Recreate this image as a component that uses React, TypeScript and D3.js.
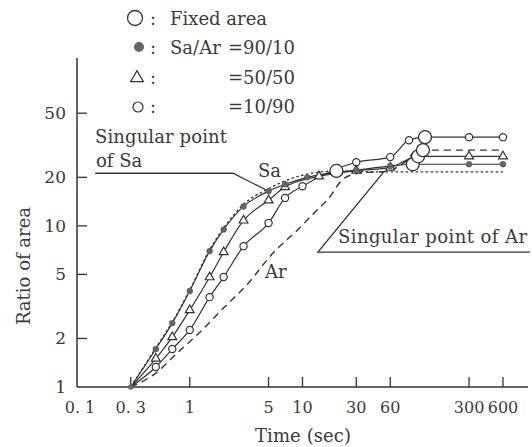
import React from 'react';
import * as d3 from 'd3';

const W = 532;
const H = 447;

// axis ticks
const xTickValues = [0.3, 1, 5, 10, 30, 60, 300, 600];
const xLabelValues = [0.1, 0.3, 1, 5, 10, 30, 60, 300, 600];
const xLabelTexts = ['0. 1', '0. 3', '1', '5', '10', '30', '60', '300', '600'];
const yTickValues = [2, 5, 10, 20, 50];
const yLabelValues = [1, 2, 5, 10, 20, 50];
const yLabelTexts = ['1', '2', '5', '10', '20', '50'];

// Sa/Ar = 90/10 (filled circles)
const filledT = [0.3, 0.5, 0.7, 1, 1.5, 2, 3, 5, 7, 11, 30, 60, 95, 300, 600];
const filledV = [1, 1.72, 2.49, 3.94, 6.97, 9.5, 13.2, 16.4, 18.1, 20.0, 22.2, 23.5, 24.1, 24.1, 24.1];
// Sa/Ar = 50/50 (triangles)
const triT = [0.3, 0.5, 0.7, 1, 1.5, 2, 3, 5, 7, 14, 30, 60, 106, 300, 600];
const triV = [1, 1.5, 2.04, 3.0, 4.8, 6.87, 10.8, 14.4, 17.4, 20.3, 22.0, 23.0, 27, 27, 27];
// Sa/Ar = 10/90 (open circles)
const openT = [0.3, 0.5, 0.7, 1, 1.5, 2, 3, 5, 7, 10, 30, 60, 88, 122, 300, 600];
const openV = [1, 1.33, 1.72, 2.26, 3.61, 4.81, 7.48, 10.4, 14.9, 17.6, 24.8, 26.7, 34, 35.5, 35.5, 35.5];
// pure Sa (dotted)
const saT = [0.3, 0.5, 0.7, 1, 1.5, 2, 3, 5, 7, 10, 20, 30, 60, 600];
const saV = [1, 1.75, 2.53, 4.0, 7.1, 9.7, 13.6, 17.0, 19.0, 20.6, 21.9, 21.7, 21.6, 21.6];
// pure Ar (dashed)
const arT = [0.3, 0.5, 0.77, 1.23, 2, 3.2, 5.5, 9, 13.4, 16.5, 24, 35, 53, 78, 104, 117, 300, 600];
const arV = [1, 1.22, 1.62, 2.19, 3.1, 4.3, 6.8, 9.4, 12.5, 14.4, 20, 21.4, 21.7, 24.4, 29.3, 29.5, 29.5, 29.5];
// fixed-area points (large open circles)
const fixedT = [20, 95, 106, 117, 122];
const fixedV = [21.9, 24.1, 27, 29.5, 35.5];

// annotation anchors (data units)
const saLeaderT = [0.145, 2.42, 5];
const saLeaderV = [21.2, 21.2, 16.4];
const arLeaderT = [1040, 13.7, 53];
const arLeaderV = [6.87, 6.87, 21.8];

const x = d3.scaleLog().domain([0.1, 1000]).range([77, 528]);
const y = d3.scaleLog().domain([1, 110]).range([387, 58]);

const zip = (t: number[], v: number[]) => t.map((d, i) => [d, v[i]] as [number, number]);

const curve = d3
  .line<[number, number]>()
  .x((d) => x(d[0]))
  .y((d) => y(d[1]))
  .curve(d3.curveMonotoneX);
const straight = d3
  .line<[number, number]>()
  .x((d) => x(d[0]))
  .y((d) => y(d[1]));

const INK = '#333';
const TXT = '#3a3a3a';
const FONT = '"DejaVu Serif", "Liberation Serif", serif';

const tri = (size: number) => d3.symbol(d3.symbolTriangle, size)() as string;

export default function App() {
  const filled = zip(filledT, filledV);
  const triPts = zip(triT, triV);
  const open = zip(openT, openV);
  const sa = zip(saT, saV);
  const ar = zip(arT, arV);
  const fixed = zip(fixedT, fixedV);
  const isFixed = (p: [number, number]) => fixedT.includes(p[0]) && fixedV.includes(p[1]);

  return (
    <svg
      width={W}
      height={H}
      style={{ position: 'absolute', left: 0, top: 0, background: '#fff' }}
      fontFamily={FONT}
      fill={TXT}
    >
      <rect width={W} height={H} fill="#fff" />
      {/* axes */}
      <line x1={x(0.1)} x2={x(0.1)} y1={58} y2={y(1)} stroke={INK} strokeWidth={1.5} />
      <line x1={x(0.1)} x2={x(1000)} y1={y(1)} y2={y(1)} stroke={INK} strokeWidth={1.5} />
      {xTickValues.map((t) => (
        <line key={'xt' + t} x1={x(t)} x2={x(t)} y1={y(1)} y2={y(1) - 10} stroke={INK} strokeWidth={1.3} />
      ))}
      {yTickValues.map((v) => (
        <line key={'yt' + v} x1={x(0.1)} x2={x(0.1) + 10} y1={y(v)} y2={y(v)} stroke={INK} strokeWidth={1.3} />
      ))}
      {xLabelValues.map((t, i) => (
        <text key={'xl' + t} x={x(t) + (i === 0 ? 3 : 0)} y={413} fontSize={16} textAnchor="middle">
          {xLabelTexts[i]}
        </text>
      ))}
      {yLabelValues.map((v, i) => (
        <text key={'yl' + v} x={66} y={y(v) + 6} fontSize={17} textAnchor="end">
          {yLabelTexts[i]}
        </text>
      ))}
      <text x={255} y={442} fontSize={18} textLength={96}>Time (sec)</text>
      <text transform="translate(30,266) rotate(-90)" fontSize={18} textAnchor="middle">Ratio of area</text>

      {/* reference curves */}
      <path d={curve(sa) || ''} fill="none" stroke={INK} strokeWidth={1.3} strokeDasharray="2.5 2.5" />
      <path d={curve(ar) || ''} fill="none" stroke={INK} strokeWidth={1.4} strokeDasharray="7 5" />
      {/* series lines */}
      <path d={curve(filled) || ''} fill="none" stroke={INK} strokeWidth={1.2} />
      <path d={curve(triPts) || ''} fill="none" stroke={INK} strokeWidth={1.2} />
      <path d={curve(open) || ''} fill="none" stroke={INK} strokeWidth={1.2} />

      {/* leaders */}
      <path d={straight(zip(saLeaderT, saLeaderV)) || ''} fill="none" stroke={INK} strokeWidth={1.3} />
      <path d={straight(zip(arLeaderT, arLeaderV)) || ''} fill="none" stroke={INK} strokeWidth={1.3} />

      {/* markers */}
      {open.slice(1).filter((p) => !isFixed(p)).map((p, i) => (
        <circle key={'o' + i} cx={x(p[0])} cy={y(p[1])} r={3.6} fill="#fff" stroke={INK} strokeWidth={1.2} />
      ))}
      {triPts.slice(1).filter((p) => !isFixed(p)).map((p, i) => (
        <path key={'t' + i} d={tri(34)} transform={`translate(${x(p[0])},${y(p[1])})`} fill="#fff" stroke={INK} strokeWidth={1.2} />
      ))}
      {filled.slice(1).filter((p) => !isFixed(p)).map((p, i) => (
        <circle key={'f' + i} cx={x(p[0])} cy={y(p[1])} r={2.8} fill="#666" stroke="#555" strokeWidth={0.8} />
      ))}
      <circle cx={x(filledT[0])} cy={y(filledV[0])} r={2.8} fill="#666" />
      {fixed.map((p, i) => (
        <circle key={'x' + i} cx={x(p[0])} cy={y(p[1])} r={6.5} fill="#fff" stroke={INK} strokeWidth={1.3} />
      ))}

      {/* annotations */}
      <text x={95} y={143} fontSize={18} textLength={132}>Singular point</text>
      <text x={96} y={167} fontSize={18}>of Sa</text>
      <text x={258} y={177} fontSize={18}>Sa</text>
      <text x={265} y={278} fontSize={18}>Ar</text>
      <text x={338} y={243} fontSize={18} textLength={189}>Singular point of Ar</text>

      {/* legend */}
      <circle cx={135} cy={18} r={7.5} fill="#fff" stroke={INK} strokeWidth={1.3} />
      <text x={150} y={25} fontSize={18}>:</text>
      <text x={170} y={25} fontSize={18}>Fixed area</text>
      <circle cx={139} cy={47} r={5} fill="#666" />
      <text x={150} y={54} fontSize={18}>:</text>
      <text x={170} y={54} fontSize={18}>Sa/Ar</text>
      <text x={228} y={54} fontSize={18}>=90/10</text>
      <path d={tri(70)} transform="translate(137,78)" fill="#fff" stroke={INK} strokeWidth={1.2} />
      <text x={150} y={84} fontSize={18}>:</text>
      <text x={228} y={84} fontSize={18}>=50/50</text>
      <circle cx={138} cy={107} r={5} fill="#fff" stroke={INK} strokeWidth={1.2} />
      <text x={150} y={113} fontSize={18}>:</text>
      <text x={228} y={113} fontSize={18}>=10/90</text>
    </svg>
  );
}
